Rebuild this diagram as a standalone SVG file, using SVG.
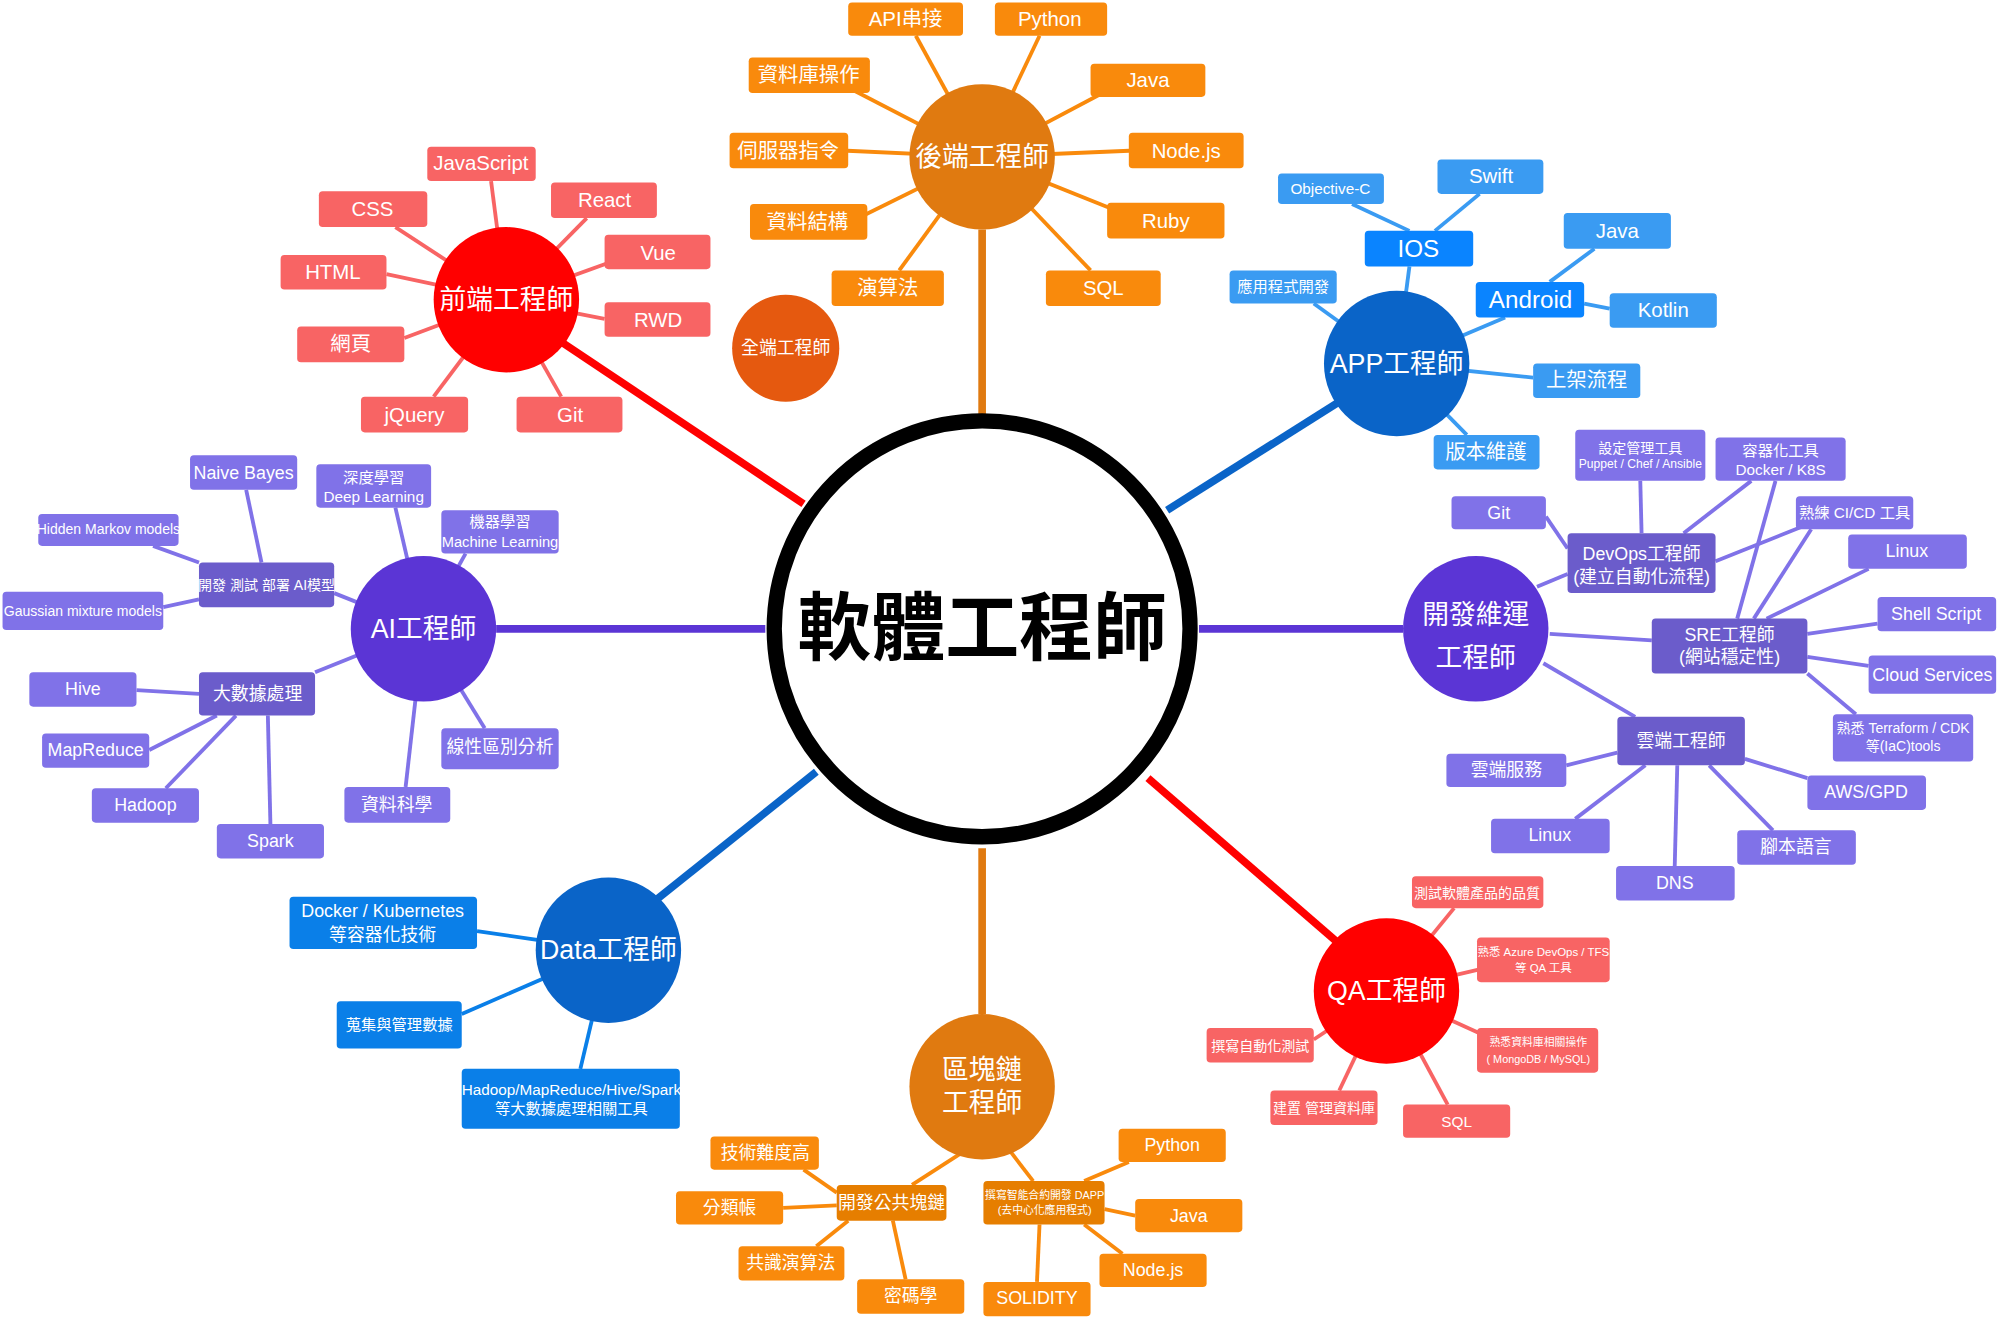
<svg xmlns="http://www.w3.org/2000/svg" width="2000" height="1320" viewBox="0 0 2000 1320">
<style>
text{font-family:"Liberation Sans","Noto Sans CJK TC",sans-serif;fill:#fff;text-anchor:middle;dominant-baseline:central}
.t{font-size:16px}.s{font-size:11px}.h{font-size:21px}
.or{fill:#F98A0C}.rd{fill:#F86464}.lb{fill:#3A9BF2}.bb{fill:#0A84FF}.db{fill:#0A7FE8}.pl{fill:#8072E8}.pd{fill:#6B5CCB}.od{fill:#E67E00}
.lo{stroke:#F98A0C;stroke-width:3}.lr{stroke:#F86464;stroke-width:3}.lbl{stroke:#3A9BF2;stroke-width:3}.lp{stroke:#8072E8;stroke-width:3}.ldb{stroke:#0A7FE8;stroke-width:3}
</style>
<rect width="2000" height="1320" fill="#fff"/>
<g transform="scale(1.2755)">
<g id="connectors" fill="none">
<line x1="770" y1="330" x2="770" y2="180" stroke="#E07A10" stroke-width="6"/>
<line x1="630" y1="395" x2="440" y2="268" stroke="#FF0000" stroke-width="6"/>
<line x1="915" y1="400" x2="1050" y2="315" stroke="#0A64C8" stroke-width="6"/>
<line x1="940" y1="493" x2="1100" y2="493" stroke="#5B35D5" stroke-width="6"/>
<line x1="900" y1="610" x2="1050" y2="740" stroke="#FF0000" stroke-width="6"/>
<line x1="770" y1="665" x2="770" y2="795" stroke="#E07A10" stroke-width="6"/>
<line x1="640" y1="605" x2="515" y2="705" stroke="#0A64C8" stroke-width="6"/>
<line x1="600" y1="493" x2="389" y2="493" stroke="#5B35D5" stroke-width="6"/>
<g class="lo">
<line x1="770" y1="123" x2="718" y2="28"/><line x1="770" y1="123" x2="815" y2="28"/><line x1="770" y1="123" x2="660" y2="66"/><line x1="770" y1="123" x2="870" y2="70"/><line x1="770" y1="123" x2="660" y2="118"/><line x1="770" y1="123" x2="890" y2="118"/><line x1="770" y1="123" x2="675" y2="170"/><line x1="770" y1="123" x2="875" y2="165"/><line x1="770" y1="123" x2="705" y2="212"/><line x1="770" y1="123" x2="855" y2="212"/>
<line x1="760" y1="900" x2="715" y2="929"/><line x1="790" y1="900" x2="810" y2="926"/><line x1="656" y1="935" x2="630" y2="917"/><line x1="656" y1="945" x2="614" y2="947"/><line x1="665" y1="957" x2="640" y2="977"/><line x1="700" y1="957" x2="710" y2="1003"/><line x1="850" y1="926" x2="885" y2="911"/><line x1="866" y1="948" x2="890" y2="953"/><line x1="850" y1="960" x2="880" y2="983"/><line x1="815" y1="960" x2="813" y2="1005"/>
</g>
<g class="lr">
<line x1="397" y1="235" x2="385" y2="142"/><line x1="397" y1="235" x2="310" y2="178"/><line x1="397" y1="235" x2="460" y2="171"/><line x1="397" y1="235" x2="303" y2="215"/><line x1="397" y1="235" x2="480" y2="205"/><line x1="397" y1="235" x2="474" y2="250"/><line x1="397" y1="235" x2="317" y2="265"/><line x1="397" y1="235" x2="340" y2="311"/><line x1="397" y1="235" x2="440" y2="311"/>
<line x1="1087" y1="777" x2="1140" y2="712"/><line x1="1087" y1="777" x2="1160" y2="760"/><line x1="1087" y1="777" x2="1030" y2="815"/><line x1="1087" y1="777" x2="1160" y2="810"/><line x1="1087" y1="777" x2="1050" y2="855"/><line x1="1087" y1="777" x2="1135" y2="866"/>
</g>
<g class="lbl">
<line x1="1095" y1="285" x2="1105" y2="209"/><line x1="1105" y1="181" x2="1060" y2="160"/><line x1="1125" y1="181" x2="1160" y2="152"/><line x1="1095" y1="285" x2="1030" y2="238"/><line x1="1095" y1="285" x2="1180" y2="249"/><line x1="1215" y1="221" x2="1250" y2="195"/><line x1="1242" y1="238" x2="1262" y2="242"/><line x1="1095" y1="285" x2="1202" y2="296"/><line x1="1095" y1="285" x2="1150" y2="341"/>
</g>
<g class="ldb">
<line x1="477" y1="745" x2="374" y2="730"/><line x1="477" y1="745" x2="362" y2="795"/><line x1="477" y1="745" x2="455" y2="838"/>
</g>
<g class="lp">
<line x1="1205" y1="460" x2="1229" y2="450"/><line x1="1215" y1="497" x2="1295" y2="502"/><line x1="1210" y1="520" x2="1282" y2="562"/>
<line x1="1229" y1="430" x2="1212" y2="405"/><line x1="1287" y1="418" x2="1286" y2="377"/><line x1="1320" y1="418" x2="1373" y2="377"/><line x1="1345" y1="440" x2="1420" y2="410"/>
<line x1="1362" y1="485" x2="1392" y2="377"/><line x1="1375" y1="485" x2="1420" y2="415"/><line x1="1385" y1="485" x2="1465" y2="446"/><line x1="1417" y1="497" x2="1472" y2="489"/><line x1="1417" y1="515" x2="1465" y2="522"/><line x1="1417" y1="528" x2="1455" y2="560"/>
<line x1="1268" y1="590" x2="1228" y2="600"/><line x1="1368" y1="595" x2="1417" y2="610"/><line x1="1290" y1="600" x2="1235" y2="642"/><line x1="1340" y1="600" x2="1390" y2="651"/><line x1="1315" y1="600" x2="1313" y2="679"/>
<line x1="332" y1="493" x2="262" y2="465"/><line x1="332" y1="493" x2="247" y2="527"/><line x1="332" y1="493" x2="310" y2="398"/><line x1="332" y1="493" x2="365" y2="434"/><line x1="332" y1="493" x2="380" y2="571"/><line x1="332" y1="493" x2="318" y2="617"/>
<line x1="205" y1="441" x2="193" y2="384"/><line x1="156" y1="441" x2="120" y2="428"/><line x1="156" y1="470" x2="128" y2="476"/>
<line x1="156" y1="544" x2="107" y2="541"/><line x1="170" y1="561" x2="117" y2="588"/><line x1="185" y1="561" x2="130" y2="618"/><line x1="210" y1="561" x2="212" y2="646"/>
</g>
</g>
<g id="center"><circle cx="770" cy="493" r="163" fill="#fff" stroke="#000" stroke-width="12"/><text x="770" y="493" style="fill:#000;font-size:58px;font-weight:bold">軟體工程師</text></g>
<g id="backend"><circle cx="770" cy="123" r="57" fill="#E07A10"/><text class="h" x="770" y="123">後端工程師</text></g>
<g id="frontend"><circle cx="397" cy="235" r="57" fill="#FF0000"/><text class="h" x="397" y="235">前端工程師</text></g>
<g id="fullstack"><circle cx="616" cy="273" r="42" fill="#E5590F"/><text class="t" x="616" y="273" style="font-size:14px">全端工程師</text></g>
<g id="app"><circle cx="1095" cy="285" r="57" fill="#0A64C8"/><text class="h" x="1095" y="285">APP工程師</text></g>
<g id="devops"><circle cx="1157" cy="493" r="57" fill="#5B35D5"/><text class="h" x="1157" y="482">開發維運</text><text class="h" x="1157" y="516">工程師</text></g>
<g id="qa"><circle cx="1087" cy="777" r="57" fill="#FF0000"/><text class="h" x="1087" y="777">QA工程師</text></g>
<g id="blockchain"><circle cx="770" cy="852" r="57" fill="#E07A10"/><text class="h" x="770" y="839">區塊鏈</text><text class="h" x="770" y="865">工程師</text></g>
<g id="data"><circle cx="477" cy="745" r="57" fill="#0A64C8"/><text class="h" x="477" y="745">Data工程師</text></g>
<g id="ai"><circle cx="332" cy="493" r="57" fill="#5B35D5"/><text class="h" x="332" y="493">AI工程師</text></g>

<g id="be-leaves">
<g><rect class="or" x="665" y="2" width="90" height="26" rx="3"/><text class="t" x="710" y="15">API串接</text></g>
<g><rect class="or" x="780" y="2" width="88" height="26" rx="3"/><text class="t" x="823" y="15">Python</text></g>
<g><rect class="or" x="587" y="45" width="95" height="28" rx="3"/><text class="t" x="634" y="59">資料庫操作</text></g>
<g><rect class="or" x="855" y="50" width="90" height="26" rx="3"/><text class="t" x="900" y="63">Java</text></g>
<g><rect class="or" x="572" y="104" width="93" height="28" rx="3"/><text class="t" x="618" y="118">伺服器指令</text></g>
<g><rect class="or" x="885" y="104" width="90" height="28" rx="3"/><text class="t" x="930" y="118">Node.js</text></g>
<g><rect class="or" x="588" y="160" width="92" height="28" rx="3"/><text class="t" x="633" y="174">資料結構</text></g>
<g><rect class="or" x="868" y="159" width="92" height="28" rx="3"/><text class="t" x="914" y="173">Ruby</text></g>
<g><rect class="or" x="652" y="212" width="88" height="28" rx="3"/><text class="t" x="696" y="226">演算法</text></g>
<g><rect class="or" x="820" y="212" width="90" height="28" rx="3"/><text class="t" x="865" y="226">SQL</text></g>
</g>
<g id="fe-leaves">
<g><rect class="rd" x="335" y="115" width="85" height="27" rx="3"/><text class="t" x="377" y="128">JavaScript</text></g>
<g><rect class="rd" x="250" y="150" width="85" height="28" rx="3"/><text class="t" x="292" y="164">CSS</text></g>
<g><rect class="rd" x="432" y="143" width="83" height="28" rx="3"/><text class="t" x="474" y="157">React</text></g>
<g><rect class="rd" x="220" y="200" width="83" height="27" rx="3"/><text class="t" x="261" y="213">HTML</text></g>
<g><rect class="rd" x="474" y="184" width="83" height="27" rx="3"/><text class="t" x="516" y="198">Vue</text></g>
<g><rect class="rd" x="474" y="237" width="83" height="27" rx="3"/><text class="t" x="516" y="251">RWD</text></g>
<g><rect class="rd" x="233" y="256" width="84" height="28" rx="3"/><text class="t" x="275" y="270">網頁</text></g>
<g><rect class="rd" x="283" y="311" width="84" height="28" rx="3"/><text class="t" x="325" y="325">jQuery</text></g>
<g><rect class="rd" x="405" y="311" width="83" height="28" rx="3"/><text class="t" x="447" y="325">Git</text></g>
</g>
<g id="app-leaves">
<g><rect class="lb" x="1002" y="136" width="83" height="24" rx="3"/><text class="s" x="1043" y="148" style="font-size:12px">Objective-C</text></g>
<g><rect class="lb" x="1127" y="125" width="83" height="27" rx="3"/><text class="t" x="1169" y="138">Swift</text></g>
<g><rect class="bb" x="1070" y="181" width="85" height="28" rx="3"/><text class="t" x="1112" y="195" style="font-size:19px">IOS</text></g>
<g><rect class="lb" x="964" y="212" width="84" height="26" rx="3"/><text class="s" x="1006" y="225" style="font-size:12px">應用程式開發</text></g>
<g><rect class="lb" x="1226" y="167" width="84" height="28" rx="3"/><text class="t" x="1268" y="181">Java</text></g>
<g><rect class="bb" x="1157" y="221" width="85" height="28" rx="3"/><text class="t" x="1200" y="235" style="font-size:19px">Android</text></g>
<g><rect class="lb" x="1262" y="230" width="84" height="27" rx="3"/><text class="t" x="1304" y="243">Kotlin</text></g>
<g><rect class="lb" x="1202" y="285" width="84" height="27" rx="3"/><text class="t" x="1244" y="298">上架流程</text></g>
<g><rect class="lb" x="1124" y="341" width="83" height="27" rx="3"/><text class="t" x="1165" y="354">版本維護</text></g>
</g>
<g id="devops-leaves">
<g><rect class="pd" x="1229" y="418" width="116" height="47" rx="3"/><text class="t" x="1287" y="434" style="font-size:14px">DevOps工程師</text><text class="t" x="1287" y="452" style="font-size:14px">(建立自動化流程)</text></g>
<g><rect class="pl" x="1138" y="389" width="74" height="26" rx="3"/><text class="t" x="1175" y="402" style="font-size:14px">Git</text></g>
<g><rect class="pl" x="1235" y="337" width="102" height="40" rx="3"/><text class="s" x="1286" y="351">設定管理工具</text><text class="s" x="1286" y="364" style="font-size:9.5px">Puppet / Chef / Ansible</text></g>
<g><rect class="pl" x="1345" y="343" width="102" height="34" rx="3"/><text class="s" x="1396" y="353" style="font-size:12px">容器化工具</text><text class="s" x="1396" y="368" style="font-size:12px">Docker / K8S</text></g>
<g><rect class="pl" x="1408" y="389" width="92" height="26" rx="3"/><text class="s" x="1454" y="402" style="font-size:12px">熟練 CI/CD 工具</text></g>
<g><rect class="pl" x="1449" y="419" width="93" height="27" rx="3"/><text class="t" x="1495" y="432" style="font-size:14px">Linux</text></g>
<g><rect class="pd" x="1295" y="485" width="122" height="43" rx="3"/><text class="t" x="1356" y="498" style="font-size:14px">SRE工程師</text><text class="t" x="1356" y="515" style="font-size:14px">(網站穩定性)</text></g>
<g><rect class="pl" x="1472" y="468" width="93" height="27" rx="3"/><text class="t" x="1518" y="481" style="font-size:14px">Shell Script</text></g>
<g><rect class="pl" x="1465" y="514" width="100" height="30" rx="3"/><text class="t" x="1515" y="529" style="font-size:14px">Cloud Services</text></g>
<g><rect class="pl" x="1437" y="560" width="110" height="37" rx="3"/><text class="s" x="1492" y="571">熟悉 Terraform / CDK</text><text class="s" x="1492" y="585">等(IaC)tools</text></g>
<g><rect class="pd" x="1268" y="562" width="100" height="38" rx="3"/><text class="t" x="1318" y="581" style="font-size:14px">雲端工程師</text></g>
<g><rect class="pl" x="1134" y="591" width="94" height="26" rx="3"/><text class="t" x="1181" y="604" style="font-size:14px">雲端服務</text></g>
<g><rect class="pl" x="1417" y="608" width="93" height="27" rx="3"/><text class="t" x="1463" y="621" style="font-size:14px">AWS/GPD</text></g>
<g><rect class="pl" x="1169" y="642" width="93" height="27" rx="3"/><text class="t" x="1215" y="655" style="font-size:14px">Linux</text></g>
<g><rect class="pl" x="1362" y="651" width="93" height="27" rx="3"/><text class="t" x="1408" y="664" style="font-size:14px">腳本語言</text></g>
<g><rect class="pl" x="1267" y="679" width="93" height="27" rx="3"/><text class="t" x="1313" y="692" style="font-size:14px">DNS</text></g>
</g>
<g id="qa-leaves">
<g><rect class="rd" x="1107" y="687" width="103" height="25" rx="3"/><text class="s" x="1158" y="700">測試軟體產品的品質</text></g>
<g><rect class="rd" x="1158" y="735" width="104" height="35" rx="3"/><text class="s" x="1210" y="746" style="font-size:9px">熟悉 Azure DevOps / TFS</text><text class="s" x="1210" y="759" style="font-size:9px">等 QA 工具</text></g>
<g><rect class="rd" x="946" y="806" width="84" height="27" rx="3"/><text class="s" x="988" y="820">撰寫自動化測試</text></g>
<g><rect class="rd" x="1158" y="806" width="95" height="35" rx="3"/><text class="s" x="1206" y="817" style="font-size:8.5px">熟悉資料庫相關操作</text><text class="s" x="1206" y="830" style="font-size:8.5px">( MongoDB / MySQL)</text></g>
<g><rect class="rd" x="996" y="855" width="84" height="27" rx="3"/><text class="s" x="1038" y="869">建置 管理資料庫</text></g>
<g><rect class="rd" x="1100" y="866" width="84" height="26" rx="3"/><text class="s" x="1142" y="879" style="font-size:12px">SQL</text></g>
</g>
<g id="bc-leaves">
<g><rect class="od" x="656" y="929" width="86" height="28" rx="3"/><text class="t" x="699" y="943" style="font-size:14px">開發公共塊鏈</text></g>
<g><rect class="od" x="771" y="926" width="95" height="34" rx="3"/><text class="s" x="819" y="937" style="font-size:8.5px">撰寫智能合約開發 DAPP</text><text class="s" x="819" y="949" style="font-size:8.5px">(去中心化應用程式)</text></g>
<g><rect class="or" x="557" y="891" width="85" height="26" rx="3"/><text class="t" x="600" y="904" style="font-size:14px">技術難度高</text></g>
<g><rect class="or" x="530" y="934" width="84" height="26" rx="3"/><text class="t" x="572" y="947" style="font-size:14px">分類帳</text></g>
<g><rect class="or" x="579" y="977" width="83" height="27" rx="3"/><text class="t" x="620" y="990" style="font-size:14px">共識演算法</text></g>
<g><rect class="or" x="672" y="1003" width="84" height="27" rx="3"/><text class="t" x="714" y="1016" style="font-size:14px">密碼學</text></g>
<g><rect class="or" x="877" y="885" width="84" height="26" rx="3"/><text class="t" x="919" y="898" style="font-size:14px">Python</text></g>
<g><rect class="or" x="890" y="940" width="84" height="26" rx="3"/><text class="t" x="932" y="953" style="font-size:14px">Java</text></g>
<g><rect class="or" x="862" y="983" width="84" height="26" rx="3"/><text class="t" x="904" y="996" style="font-size:14px">Node.js</text></g>
<g><rect class="or" x="771" y="1005" width="84" height="27" rx="3"/><text class="t" x="813" y="1018" style="font-size:14px">SOLIDITY</text></g>
</g>
<g id="data-leaves">
<g><rect class="db" x="227" y="703" width="147" height="41" rx="3"/><text class="t" x="300" y="714" style="font-size:14px">Docker / Kubernetes</text><text class="t" x="300" y="733" style="font-size:14px">等容器化技術</text></g>
<g><rect class="db" x="264" y="785" width="98" height="37" rx="3"/><text class="s" x="313" y="803" style="font-size:12px">蒐集與管理數據</text></g>
<g><rect class="db" x="362" y="838" width="171" height="47" rx="3"/><text class="s" x="448" y="854" style="font-size:12px">Hadoop/MapReduce/Hive/Spark</text><text class="s" x="448" y="869" style="font-size:12px">等大數據處理相關工具</text></g>
</g>
<g id="ai-leaves">
<g><rect class="pl" x="149" y="357" width="84" height="27" rx="3"/><text class="t" x="191" y="371" style="font-size:14px">Naive Bayes</text></g>
<g><rect class="pl" x="248" y="364" width="90" height="34" rx="3"/><text class="s" x="293" y="374" style="font-size:12px">深度學習</text><text class="s" x="293" y="389" style="font-size:12px">Deep Learning</text></g>
<g><rect class="pl" x="346" y="400" width="92" height="34" rx="3"/><text class="s" x="392" y="409" style="font-size:12px">機器學習</text><text class="s" x="392" y="425" style="font-size:11.5px">Machine Learning</text></g>
<g><rect class="pl" x="30" y="403" width="110" height="25" rx="3"/><text class="s" x="85" y="415">Hidden Markov models</text></g>
<g><rect class="pd" x="156" y="441" width="106" height="35" rx="3"/><text class="s" x="209" y="459">開發 測試 部署 AI模型</text></g>
<g><rect class="pl" x="2" y="464" width="126" height="30" rx="3"/><text class="s" x="65" y="479">Gaussian mixture models</text></g>
<g><rect class="pd" x="156" y="527" width="91" height="34" rx="3"/><text class="t" x="202" y="544" style="font-size:14px">大數據處理</text></g>
<g><rect class="pl" x="23" y="527" width="84" height="27" rx="3"/><text class="t" x="65" y="540" style="font-size:14px">Hive</text></g>
<g><rect class="pl" x="33" y="575" width="84" height="27" rx="3"/><text class="t" x="75" y="588" style="font-size:14px">MapReduce</text></g>
<g><rect class="pl" x="72" y="618" width="84" height="27" rx="3"/><text class="t" x="114" y="631" style="font-size:14px">Hadoop</text></g>
<g><rect class="pl" x="170" y="646" width="84" height="27" rx="3"/><text class="t" x="212" y="659" style="font-size:14px">Spark</text></g>
<g><rect class="pl" x="270" y="617" width="83" height="28" rx="3"/><text class="t" x="311" y="631" style="font-size:14px">資料科學</text></g>
<g><rect class="pl" x="346" y="571" width="92" height="32" rx="3"/><text class="t" x="392" y="586" style="font-size:14px">線性區別分析</text></g>
</g>
</g>
</svg>
